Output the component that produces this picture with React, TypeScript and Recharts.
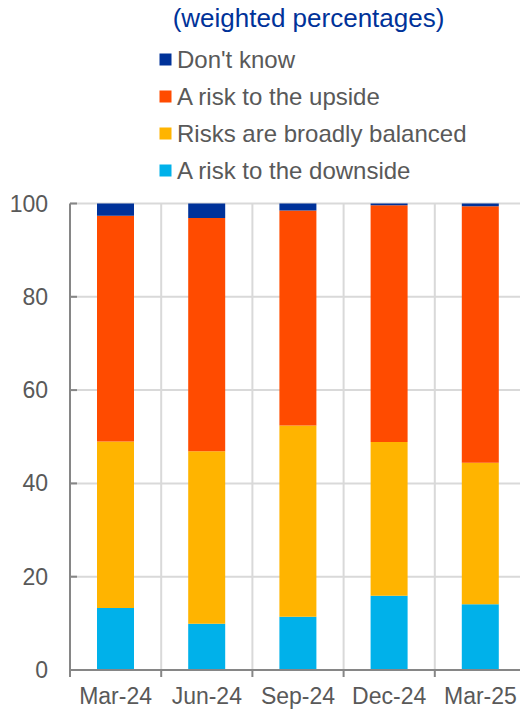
import { BarChart, Bar, XAxis, YAxis, CartesianGrid } from "recharts";

const periods = ["Mar-24", "Jun-24", "Sep-24", "Dec-24", "Mar-25"];
const downside = [13.3, 9.9, 11.4, 15.9, 14.1];
const balanced = [35.7, 37.0, 41.0, 33.0, 30.3];
const upside = [48.4, 50.0, 46.1, 50.7, 55.0];
const dontKnow = [2.6, 3.1, 1.5, 0.4, 0.6];
const yTicks = [0, 20, 40, 60, 80, 100];

const series = [
  { key: "downside", name: "A risk to the downside", color: "#00B1EA" },
  { key: "balanced", name: "Risks are broadly balanced", color: "#FFB400" },
  { key: "upside", name: "A risk to the upside", color: "#FF4B00" },
  { key: "dontKnow", name: "Don't know", color: "#003299" },
];

const data = periods.map((p, i) => ({
  period: p,
  downside: downside[i],
  balanced: balanced[i],
  upside: upside[i],
  dontKnow: dontKnow[i],
}));

const W = 526;
const H = 709;
const Y_AXIS_W = 70;
const TOP = 203.5;
const X_AXIS_H = 39;
const BAND = (W - Y_AXIS_W) / periods.length;

const FONT = "'Liberation Sans', Arial, sans-serif";
const TEXT = "#595959";
const GRID = "#d9d9d9";
const AXIS = "#868686";

// category labels centred in each band, tick marks on the band edges
function XTick(props: any) {
  const { x, y, payload } = props;
  const left = x - BAND / 2;
  return (
    <g>
      <line x1={left} x2={left} y1={y} y2={y + 7} stroke={AXIS} strokeWidth={2} />
      <text x={x} y={y + 34} textAnchor="middle" fontSize={23} fill={TEXT} fontFamily={FONT}>
        {payload.value}
      </text>
    </g>
  );
}

// inward tick marks on the value axis
function YTick(props: any) {
  const { x, y, payload } = props;
  return (
    <g>
      <line x1={x} x2={x + 7} y1={y} y2={y} stroke={AXIS} strokeWidth={2} />
      <text x={x - 22} y={y} dy="0.35em" textAnchor="end" fontSize={23} fill={TEXT} fontFamily={FONT}>
        {payload.value}
      </text>
    </g>
  );
}

export default function App() {
  const legendItems = [...series].reverse();
  return (
    <div style={{ position: "relative", width: 520, height: H, overflow: "hidden", background: "#fff" }}>
      <style>{`html, body { margin: 0; padding: 0; overflow: hidden; }`}</style>
      <BarChart
        width={W}
        height={H}
        data={data}
        margin={{ top: TOP, right: 0, bottom: 0, left: 0 }}
        barSize={37}
      >
        <CartesianGrid
          stroke={GRID}
          strokeWidth={2}
          verticalCoordinatesGenerator={({ offset }: any) =>
            periods.map((_, i) => offset.left + BAND * (i + 1))
          }
        />
        <XAxis
          dataKey="period"
          height={X_AXIS_H}
          tickLine={false}
          tickSize={0}
          tickMargin={0}
          axisLine={{ stroke: AXIS, strokeWidth: 2 }}
          tick={<XTick />}
          interval={0}
        />
        <YAxis
          width={Y_AXIS_W}
          domain={[0, 100]}
          ticks={yTicks}
          tickLine={false}
          tickSize={0}
          tickMargin={0}
          axisLine={{ stroke: AXIS, strokeWidth: 2 }}
          tick={<YTick />}
        />
        {series.map((s) => (
          <Bar
            key={s.key}
            dataKey={s.key}
            name={s.name}
            stackId="a"
            fill={s.color}
            isAnimationActive={false}
          />
        ))}
      </BarChart>
      <svg
        width={520}
        height={200}
        style={{ position: "absolute", left: 0, top: 0, pointerEvents: "none" }}
      >
        <text x={308.5} y={27} textAnchor="middle" fontSize={26} fill="#003299" fontFamily={FONT}>
          (weighted percentages)
        </text>
        {legendItems.map((s, i) => {
          const cy = 59.5 + i * 37;
          return (
            <g key={s.key}>
              <rect x={159.5} y={cy - 6} width={12} height={12} fill={s.color} />
              <text x={177} y={cy} dy="0.35em" fontSize={24} fill={TEXT} fontFamily={FONT}>
                {s.name}
              </text>
            </g>
          );
        })}
      </svg>
    </div>
  );
}
